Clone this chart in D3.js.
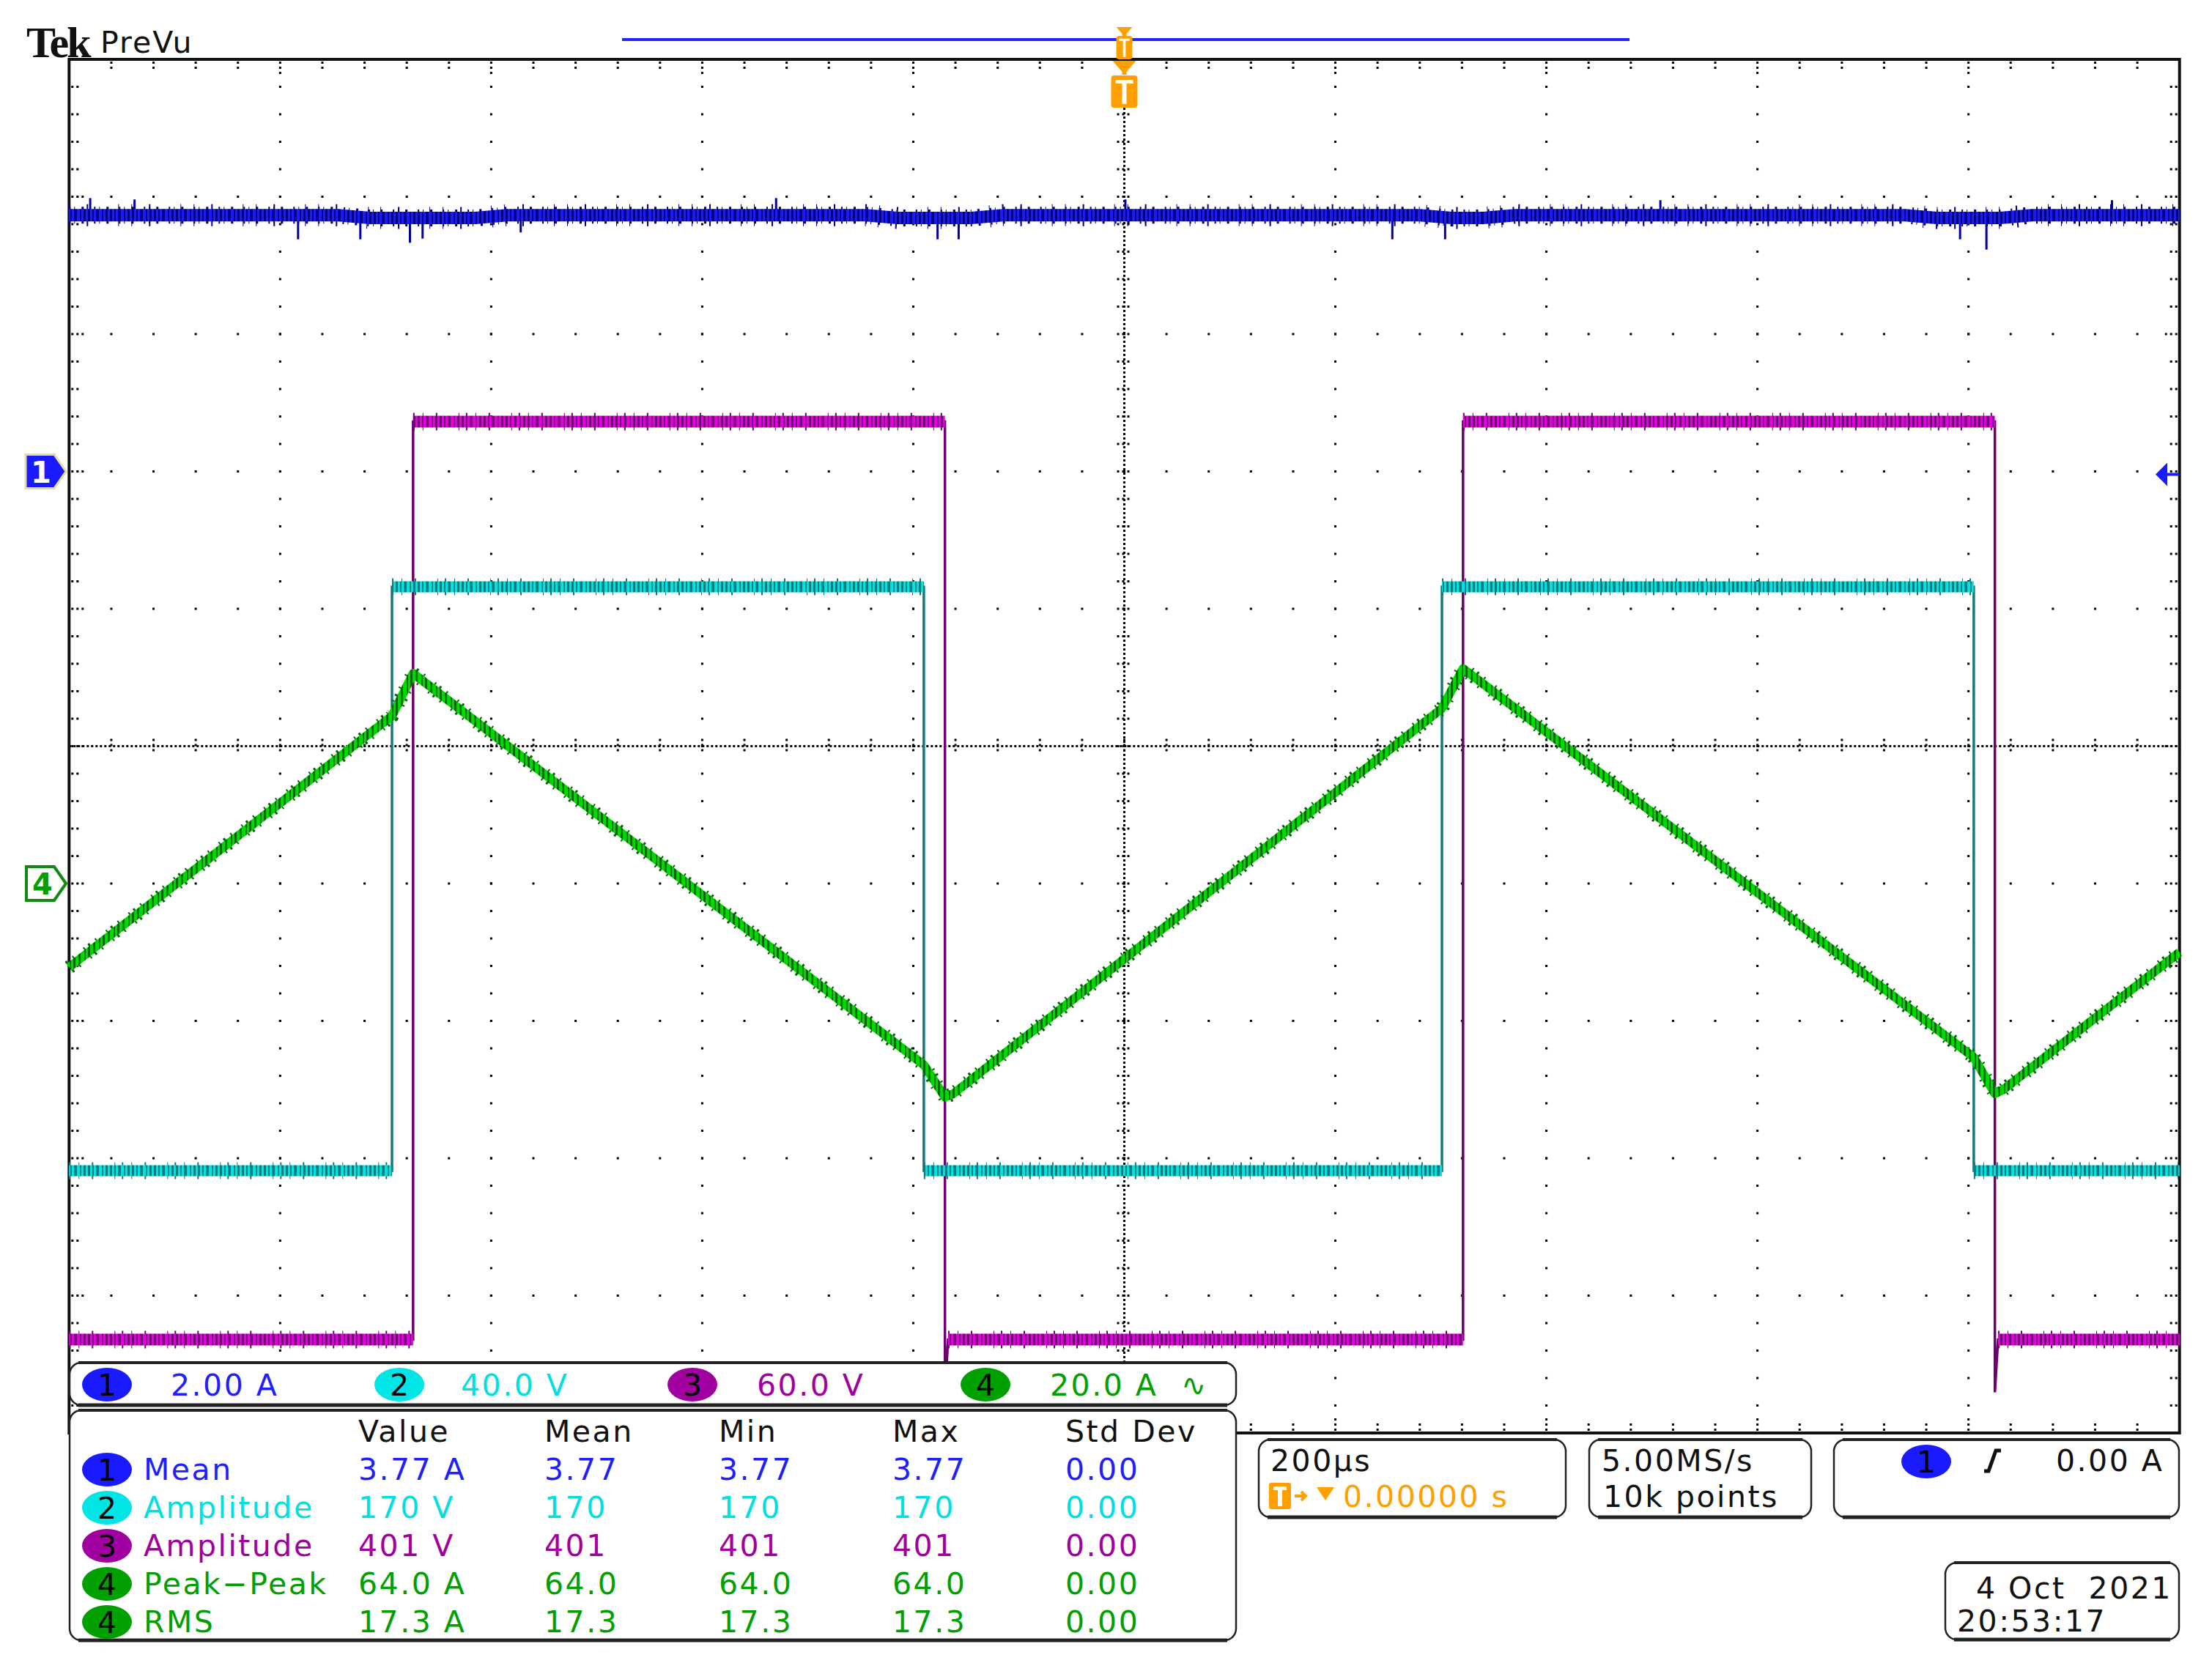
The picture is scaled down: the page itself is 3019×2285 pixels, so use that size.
<!DOCTYPE html>
<html><head><meta charset="utf-8">
<script src="https://cdnjs.cloudflare.com/ajax/libs/d3/7.8.5/d3.min.js"></script>
<style>body{margin:0;background:#fff;} svg{display:block;} text{white-space:pre;}</style>
</head><body>
<svg id="c" width="3019" height="2285"></svg>
<script>
// ---------------- DATA ----------------
const timeDomain = [-1000, 1000];            // µs ; 200 µs/div, trigger at 0
const voltsPerDiv = [2.00, 40.0, 60.0, 20.0]; // ch1 A/div, ch2 V/div, ch3 V/div, ch4 A/div
const channelOffsetDiv = [2, -3.09, -4.32, -1];

// ch1 : DC current (A)
const ch1Time = [-1000, -745, -715, -615, -585, -245, -215, -145, -115, 280, 310, 340, 370, 740, 770, 830, 860, 1000];
const ch1Amps = [3.73, 3.73, 3.69, 3.69, 3.73, 3.73, 3.69, 3.69, 3.73, 3.73, 3.69, 3.69, 3.73, 3.73, 3.69, 3.69, 3.73, 3.73];
const ch1SpikeTime = [-980, -938, -783, -724, -677, -665, -572, -330, -177, -157, 1, 254, 304, 508, 792, 817, 936];
const ch1SpikeAmps = [3.98, 3.96, 3.38, 3.38, 3.33, 3.39, 3.48, 3.98, 3.38, 3.38, 3.96, 3.38, 3.38, 3.95, 3.38, 3.23, 3.95];

// ch2 : square wave (V)
const ch2Time  = [-1000, -694, -694, -190, -190, 301, 301, 805, 805, 1000];
const ch2Volts = [0, 0, 170, 170, 0, 0, 170, 170, 0, 0];

// ch3 : square wave (V)
const ch3Time  = [-1000, -674, -674, -170, -170, -167, 321, 321, 825, 825, 828, 1000];
const ch3Volts = [0, 0, 401, 401, -23, 0, 0, 401, 401, -23, 0, 0];

// ch4 : triangular current (A)
const ch4Time = [-1000, -694, -674, -190, -170, -162, 301, 321, 805, 825, 833, 1000];
const ch4Amps = [-12.2, 24.4, 30.6, -26.4, -31.1, -30.6, 25.5, 31.3, -25.3, -30.6, -30.0, -10.0];

// readouts
const scaleLabels = ["2.00 A", "40.0 V", "60.0 V", "20.0 A"];
const measHeaders = ["Value", "Mean", "Min", "Max", "Std Dev"];
const measChannel = [1, 2, 3, 4, 4];
const measName  = ["Mean", "Amplitude", "Amplitude", "Peak\u2212Peak", "RMS"];
const measValue = ["3.77 A", "170 V", "401 V", "64.0 A", "17.3 A"];
const measMean  = ["3.77", "170", "401", "64.0", "17.3"];
const measMin   = ["3.77", "170", "401", "64.0", "17.3"];
const measMax   = ["3.77", "170", "401", "64.0", "17.3"];
const measStd   = ["0.00", "0.00", "0.00", "0.00", "0.00"];
const horizLabel = "200\u00b5s";
const trigPosLabel = "0.00000 s";
const sampleRate = "5.00MS/s";
const recordLength = "10k points";
const triggerLevel = "0.00 A";
const dateLine = "4 Oct\u00a0\u00a02021";
const timeLine = "20:53:17";

// ---------------- LAYOUT ----------------
const L = 94.3, R = 2974.7, T = 81, B = 1956;
const svg = d3.select("#c");
const defs = svg.append("defs");
const FONT = "'DejaVu Sans', 'Liberation Sans', sans-serif";
const chColor = ["#1e1eff", "#00e0e0", "#a000a0", "#00a000"];
const badgeColor = ["#1a1aff", "#00e5e5", "#a000a0", "#00a000"];

const x = d3.scaleLinear().domain(timeDomain).range([L, R]);
const yDiv = d3.scaleLinear().domain([-5, 5]).range([B, T]);
const yCh = voltsPerDiv.map((s, i) => d3.scaleLinear()
  .domain([(-5 - channelOffsetDiv[i]) * s, (5 - channelOffsetDiv[i]) * s]).range([B, T]));

svg.append("rect").attr("width", 3019).attr("height", 2285).attr("fill", "#fff");

// stripe patterns to imitate sampled noise texture
function stripePattern(id, light, dark, stripes, w) {
  const p = defs.append("pattern").attr("id", id).attr("patternUnits", "userSpaceOnUse")
    .attr("width", w).attr("height", 60);
  p.append("rect").attr("width", w).attr("height", 60).attr("fill", light);
  stripes.forEach(([sx, sw]) => p.append("rect").attr("x", sx).attr("width", sw).attr("height", 60).attr("fill", dark));
}
const stripes = [[0, 3], [6, 2], [11, 4], [19, 2], [24, 3]];
stripePattern("p1", "#1c1cf0", "#00008a", stripes, 30);
stripePattern("p2", "#00e2e2", "#008282", stripes, 30);
stripePattern("p3", "#e000e0", "#7a007a", stripes, 30);
stripePattern("p4", "#00d800", "#006a00", [[0, 3], [7, 3], [15, 2]], 20);

// ---------------- GRATICULE ----------------
const g = svg.append("g");
const minorX = d3.range(timeDomain[0], timeDomain[1] + 1, 40);
const majorX = d3.range(timeDomain[0], timeDomain[1] + 1, 200);
const minorY = d3.range(-5, 5.001, 0.2).map(v => +v.toFixed(1));
const majorY = d3.range(-5, 5.001, 1);

majorY.filter(v => v !== 0 && Math.abs(v) !== 5).forEach(v => {
  minorX.slice(1, -1).forEach(t => g.append("rect").attr("x", x(t) - 1.5).attr("y", yDiv(v) - 1.5)
    .attr("width", 3).attr("height", 3).attr("fill", "#000"));
});
majorX.filter(t => t !== 0 && Math.abs(t) !== 1000).forEach(t => {
  minorY.slice(1, -1).forEach(v => g.append("rect").attr("x", x(t) - 1.5).attr("y", yDiv(v) - 1.5)
    .attr("width", 3).attr("height", 3).attr("fill", "#000"));
});
g.append("line").attr("x1", L).attr("x2", R).attr("y1", yDiv(0)).attr("y2", yDiv(0))
  .attr("stroke", "#000").attr("stroke-width", 3).attr("stroke-dasharray", "3,3");
g.append("line").attr("x1", x(0)).attr("x2", x(0)).attr("y1", T).attr("y2", B)
  .attr("stroke", "#000").attr("stroke-width", 3).attr("stroke-dasharray", "3,3");
minorX.forEach(t => g.append("line").attr("x1", x(t)).attr("x2", x(t))
  .attr("y1", yDiv(0) - 10).attr("y2", yDiv(0) + 11)
  .attr("stroke", "#000").attr("stroke-width", 3).attr("stroke-dasharray", "3,4"));
minorY.forEach(v => g.append("line").attr("y1", yDiv(v)).attr("y2", yDiv(v))
  .attr("x1", x(0) - 10).attr("x2", x(0) + 11)
  .attr("stroke", "#000").attr("stroke-width", 3).attr("stroke-dasharray", "3,4"));
minorX.slice(1, -1).forEach(t => {
  const len = (t % 200 === 0) ? 20 : 10;
  g.append("line").attr("x1", x(t)).attr("x2", x(t)).attr("y1", T + 3).attr("y2", T + 3 + len)
    .attr("stroke", "#000").attr("stroke-width", 3).attr("stroke-dasharray", "3,4");
  g.append("line").attr("x1", x(t)).attr("x2", x(t)).attr("y1", B - 3).attr("y2", B - 3 - len)
    .attr("stroke", "#000").attr("stroke-width", 3).attr("stroke-dasharray", "3,4");
});
minorY.slice(1, -1).forEach(v => {
  const len = (Math.abs(v % 1) < 1e-6) ? 20 : 10;
  g.append("line").attr("y1", yDiv(v)).attr("y2", yDiv(v)).attr("x1", L + 3).attr("x2", L + 3 + len)
    .attr("stroke", "#000").attr("stroke-width", 3).attr("stroke-dasharray", "3,4");
  g.append("line").attr("y1", yDiv(v)).attr("y2", yDiv(v)).attr("x1", R - 3).attr("x2", R - 3 - len)
    .attr("stroke", "#000").attr("stroke-width", 3).attr("stroke-dasharray", "3,4");
});
g.append("rect").attr("x", L).attr("y", T).attr("width", R - L).attr("height", B - T)
  .attr("fill", "none").attr("stroke", "#111").attr("stroke-width", 4);

// ---------------- TRACES ----------------
const tr = svg.append("g");
const line = (ys) => d3.line().x(d => x(d[0])).y(d => ys(d[1]));

function fuzz(p1, p2, w, color, dash) {
  tr.append("line").attr("x1", p1[0]).attr("x2", p2[0]).attr("y1", p1[1]).attr("y2", p2[1])
    .attr("stroke", color).attr("stroke-width", w).attr("stroke-dasharray", dash);
}
function squareTrace(time, vals, sc, edgeColor, pat, bandW) {
  const pts = time.map((t, i) => [t, vals[i]]);
  tr.append("path").attr("d", line(sc)(pts)).attr("fill", "none")
    .attr("stroke", edgeColor).attr("stroke-width", 3.5);
  for (let i = 0; i < pts.length - 1; i++) {
    if (pts[i][1] === pts[i + 1][1] && pts[i][0] !== pts[i + 1][0]) {
      const a = [x(pts[i][0]), sc(pts[i][1])], b = [x(pts[i + 1][0]), sc(pts[i][1])];
      fuzz(a, b, bandW + 8, edgeColor, "2,11,1,17,2,29,1,9");
      tr.append("line").attr("x1", a[0]).attr("x2", b[0]).attr("y1", a[1]).attr("y2", b[1])
        .attr("stroke", `url(#${pat})`).attr("stroke-width", bandW);
    }
  }
}
// ch1 blue
const ch1Pts = ch1Time.map((t, i) => [t, ch1Amps[i]]);
ch1SpikeTime.forEach((t, i) => {
  const base = d3.scaleLinear().domain(ch1Time).range(ch1Amps)(t);
  tr.append("line").attr("x1", x(t)).attr("x2", x(t)).attr("y1", yCh[0](base)).attr("y2", yCh[0](ch1SpikeAmps[i]))
    .attr("stroke", "#0000a0").attr("stroke-width", 3);
});
const ch1Path = line(yCh[0])(ch1Pts);
tr.append("path").attr("d", ch1Path).attr("fill", "none")
  .attr("stroke", "#00008a").attr("stroke-width", 30).attr("stroke-dasharray", "1,23,2,41,1,17");
tr.append("path").attr("d", ch1Path).attr("fill", "none")
  .attr("stroke", "#00008a").attr("stroke-width", 23).attr("stroke-dasharray", "2,5,1,9,3,14");
tr.append("path").attr("d", ch1Path).attr("fill", "none")
  .attr("stroke", "url(#p1)").attr("stroke-width", 17);

squareTrace(ch3Time, ch3Volts, yCh[2], "#6e006e", "p3", 16);
squareTrace(ch2Time, ch2Volts, yCh[1], "#18797a", "p2", 15);

const ch4Pts = ch4Time.map((t, i) => [t, ch4Amps[i]]);
const ch4Path = line(yCh[3])(ch4Pts);
tr.append("path").attr("d", ch4Path).attr("fill", "none")
  .attr("stroke", "#006a00").attr("stroke-width", 19).attr("stroke-dasharray", "3,9,2,17,2,6");
tr.append("path").attr("d", ch4Path).attr("fill", "none")
  .attr("stroke", "url(#p4)").attr("stroke-width", 12).attr("stroke-linejoin", "round");

// ---------------- TOP TEXT & MARKERS ----------------
svg.append("text").attr("x", 36).attr("y", 78).attr("font-family", "'Liberation Serif', serif")
  .attr("font-weight", "bold").attr("font-size", 60).attr("letter-spacing", -3).attr("fill", "#111").text("Tek");
svg.append("text").attr("x", 137).attr("y", 72).attr("font-family", FONT)
  .attr("font-size", 41).attr("letter-spacing", 2).attr("fill", "#111").text("PreVu");
svg.append("line").attr("x1", 849).attr("x2", 2224).attr("y1", 54).attr("y2", 54)
  .attr("stroke", "#2424ff").attr("stroke-width", 4);
const ORANGE = "#ffa000";
function tIcon(cx, top, w, h) {
  svg.append("rect").attr("x", cx - w / 2).attr("y", top).attr("width", w).attr("height", h)
    .attr("rx", 4).attr("fill", ORANGE);
  const s = w / 36;
  svg.append("path").attr("d",
    `M${cx - 12 * s},${top + 6 * s} h${24 * s} v${5 * s} h${-9 * s} v${h - 16 * s} h${-6 * s} v${-(h - 16 * s)} h${-9 * s} z`)
    .attr("fill", "#fff");
}
svg.append("path").attr("d", `M${x(0) - 11},37 h22 l-8,9 v3 h-6 v-3 z`).attr("fill", ORANGE);
tIcon(x(0), 49, 22, 32);
svg.append("path").attr("d", `M${x(0) - 16},83 h32 l-13,15 v4 h-6 v-4 z`).attr("fill", ORANGE);
tIcon(x(0), 103, 36, 44);

const y1g = yCh[0](0), y4g = yCh[3](0);
svg.append("path").attr("d", `M35,${y1g - 23} h39 l16,23 l-16,23 h-39 z`)
  .attr("fill", "#1a1aff").attr("stroke", "#e6dc9a").attr("stroke-width", 3);
svg.append("text").attr("x", 56).attr("y", y1g + 15).attr("text-anchor", "middle")
  .attr("font-family", FONT).attr("font-weight", "bold").attr("font-size", 40).attr("fill", "#fff").text("1");
svg.append("path").attr("d", `M36,${y4g - 23} h38 l16,23 l-16,23 h-38 z`)
  .attr("fill", "#fff").attr("stroke", "#108a10").attr("stroke-width", 4);
svg.append("text").attr("x", 58).attr("y", y4g + 15).attr("text-anchor", "middle")
  .attr("font-family", FONT).attr("font-weight", "bold").attr("font-size", 40).attr("fill", "#00a000").text("4");
svg.append("path").attr("d", `M2942,${y1g + 4} l16,-16 v32 z`).attr("fill", "#1a1aff");
svg.append("line").attr("x1", 2955).attr("x2", 2974).attr("y1", y1g + 4).attr("y2", y1g + 4)
  .attr("stroke", "#1a1aff").attr("stroke-width", 4);

// ---------------- READOUT BOXES ----------------
function box(x0, y0, w, h) {
  svg.append("rect").attr("x", x0).attr("y", y0).attr("width", w).attr("height", h).attr("rx", 16)
    .attr("fill", "#fff").attr("stroke", "#222").attr("stroke-width", 2.5);
  svg.append("line").attr("x1", x0 + 12).attr("x2", x0 + w - 12).attr("y1", y0 + h).attr("y2", y0 + h)
    .attr("stroke", "#222").attr("stroke-width", 5);
  svg.append("line").attr("x1", x0 + 12).attr("x2", x0 + w - 12).attr("y1", y0).attr("y2", y0)
    .attr("stroke", "#222").attr("stroke-width", 4);
}
function txt(xp, yp, s, color, anchor) {
  return svg.append("text").attr("x", xp).attr("y", yp).attr("font-family", FONT).attr("font-size", 41)
    .attr("letter-spacing", 2.5).attr("fill", color).attr("text-anchor", anchor || "start").text(s);
}
function badge(cx, cy, ch, color) {
  svg.append("ellipse").attr("cx", cx).attr("cy", cy).attr("rx", 34).attr("ry", 23).attr("fill", color);
  svg.append("text").attr("x", cx).attr("y", cy + 15).attr("text-anchor", "middle").attr("font-family", FONT)
    .attr("font-size", 41).attr("fill", "#000").text(ch);
}
box(95, 1860, 1592, 58);
const barBadgeX = [146, 545, 945, 1345];
const barLabelX = [233, 629, 1033, 1433];
scaleLabels.forEach((s, i) => {
  badge(barBadgeX[i], 1890, String(i + 1), badgeColor[i]);
  txt(barLabelX[i], 1905, s, chColor[i]);
});
txt(1612, 1905, "\u223F", chColor[3]);

box(95, 1925, 1592, 314);
const colX = [489, 743, 981, 1218, 1454];
measHeaders.forEach((h, i) => txt(colX[i], 1968, h, "#111"));
const rowY = d3.range(5).map(i => 2020 + i * 52);
measName.forEach((n, r) => {
  const c = measChannel[r] - 1;
  badge(146, rowY[r] - 14, String(measChannel[r]), badgeColor[c]);
  txt(196, rowY[r], n, chColor[c]);
  [measValue, measMean, measMin, measMax, measStd].forEach((col, k) => txt(colX[k], rowY[r], col[r], chColor[c]));
});

box(1718, 1965, 419, 106);
txt(1734, 2008, horizLabel, "#111");
svg.append("rect").attr("x", 1732).attr("y", 2024).attr("width", 30).attr("height", 36).attr("rx", 3).attr("fill", ORANGE);
svg.append("path").attr("d", "M1738,2029 h18 v5 h-6 v22 h-6 v-22 h-6 z").attr("fill", "#fff");
svg.append("path").attr("d", "M1767,2042 h14 M1776,2036 l6,6 l-6,6").attr("stroke", ORANGE).attr("stroke-width", 4).attr("fill", "none");
svg.append("path").attr("d", "M1797,2030 h24 l-12,18 z").attr("fill", ORANGE);
txt(1833, 2057, trigPosLabel, ORANGE);

box(2169, 1965, 303, 106);
txt(2186, 2008, sampleRate, "#111");
txt(2188, 2057, recordLength, "#111");

box(2503, 1965, 471, 106);
badge(2629, 1995, "1", badgeColor[0]);
svg.append("path").attr("d", "M2708,2008 h6 l10,-28 h7").attr("stroke", "#111").attr("stroke-width", 5).attr("fill", "none");
txt(2806, 2008, triggerLevel, "#111");

box(2655, 2133, 319, 105);
txt(2697, 2182, dateLine, "#111");
txt(2671, 2227, timeLine, "#111");
</script>
</body></html>
